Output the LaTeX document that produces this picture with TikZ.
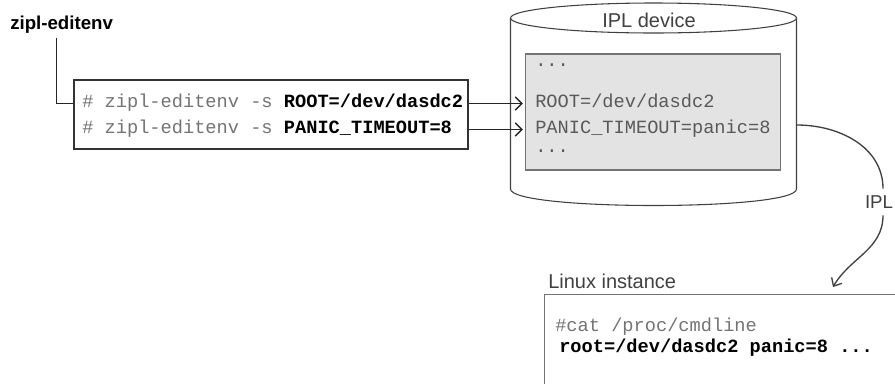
\documentclass[tikz,border=0pt]{standalone}
\usepackage{fontspec}
\setmainfont{Liberation Sans}
\setmonofont{Liberation Mono}
\usetikzlibrary{arrows.meta}
\definecolor{cmdgray}{gray}{0.45}
\definecolor{devfill}{gray}{0.89}
\definecolor{inkgray}{gray}{0.25}
\tikzset{
  tool/.style={font=\fontsize{14}{17}\selectfont\bfseries, inner sep=0pt},
  code/.style={font=\fontsize{14}{17}\selectfont\ttfamily, text=cmdgray, inner sep=0pt, anchor=base west},
  hand/.style={font=\fontsize{15}{18}\selectfont, text=inkgray, inner sep=0pt},
  link/.style={line width=1.1pt, draw=black!85},
  feed/.style={link, -{Straight Barb[length=5pt,width=10pt,line width=1.1pt]}},
  boot/.style={line width=1pt, draw=inkgray},
}

\begin{document}
\begin{tikzpicture}[x=0.75pt,y=-0.75pt]
\useasboundingbox (0,0) rectangle (895,383);
%command box
\node[tool, anchor=base west] (tool) at (10,29) {zipl-editenv};
\node[draw=black!80, line width=1.5pt, minimum width=295.5pt, minimum height=51.75pt, inner sep=0pt] (cmdbox) at (271,114.5) {};
\node[code] (cmdA) at (82,107) {\# zipl-editenv -s \textcolor{black}{\bfseries ROOT=/dev/dasdc2}};
\node[code] (cmdB) at (82,133) {\# zipl-editenv -s \textcolor{black}{\bfseries PANIC\_TIMEOUT=8}};
\draw[link] ([xshift=-3.75pt,yshift=-4pt]tool.south) |- (cmdbox.west |- cmdA.mid);

%IPL device
\draw[line width=0.8pt, draw=inkgray] (653.5,18) ellipse [x radius=107.25pt, y radius=11.25pt];
\draw[line width=0.8pt, draw=inkgray] (510.5,18) -- (510.5,189) .. controls (510.5,211) and (796.5,211) .. (796.5,189) -- (796.5,18);
\node[hand] (devlabel) at (649,20) {IPL device};
\node[draw=cmdgray, fill=devfill, line width=0.8pt, minimum width=191.25pt, minimum height=87pt, inner sep=0pt] (devbox) at (653,112) {};
\node[code, text=black!65] (dotsA) at (535,66) {...};
\node[code, text=black!65] (devA) at (535,107) {ROOT=/dev/dasdc2};
\node[code, text=black!65] (devB) at (535,133) {PANIC\_TIMEOUT=panic=8};
\node[code, text=black!65] (dotsB) at (535,152) {...};
\draw[feed, shorten >=1.5pt] (cmdbox.east |- cmdA.mid) -- (devbox.west |- cmdA.mid);
\draw[feed, shorten >=1.5pt] (cmdbox.east |- cmdB.mid) -- (devbox.west |- cmdB.mid);

%Linux instance
\node[hand, anchor=base west] (linuxlabel) at (548,288) {Linux instance};
\node[draw=cmdgray, line width=0.8pt, minimum width=300pt, minimum height=90pt, inner sep=0pt, anchor=north west] (linuxbox) at (544,294) {};
\node[code] (cmdline) at (555,331) {\#cat /proc/cmdline};
\node[code, text=black, font=\fontsize{14}{17}\selectfont\ttfamily\bfseries] (params) at (559,352) {root=/dev/dasdc2 panic=8 ...};

%IPL
\coordinate (diskout) at (797,125);
\coordinate (iplend) at (833,287);
\node[hand, font=\fontsize{14}{17}\selectfont, fill=white, inner xsep=1pt, inner ysep=5pt] (ipl) at (879,202) {IPL};
\draw[boot] (diskout) to[out=0, in=90] ([xshift=3pt]ipl.north);
\draw[boot, -{Straight Barb[length=5pt,width=9pt,line width=1pt]}] ([xshift=3pt]ipl.south) to[out=-90, in=60] (iplend);
\end{tikzpicture}
\end{document}
